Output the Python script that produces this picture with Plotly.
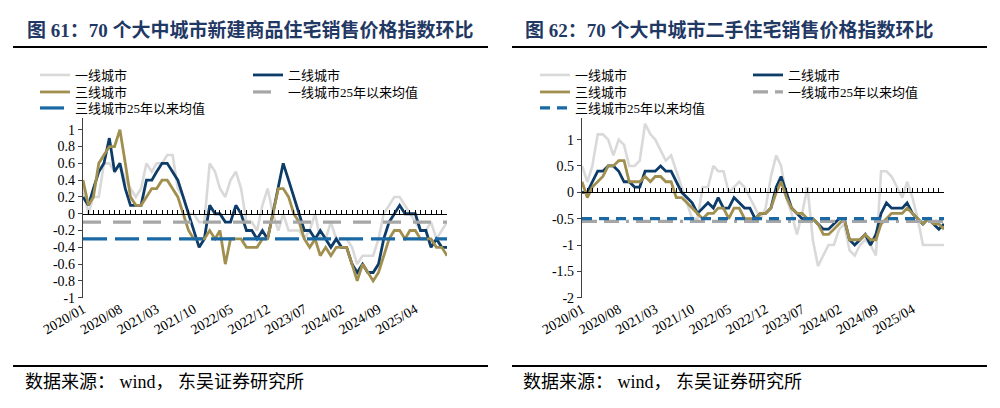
import pandas as pd
import plotly.graph_objects as go

# monthly data, 2020/01 - 2025/10
months = pd.date_range("2020-01-01", "2025-10-01", freq="MS")

x_tick_dates = ["2020-01-01", "2020-08-01", "2021-03-01", "2021-10-01", "2022-05-01",
                "2022-12-01", "2023-07-01", "2024-02-01", "2024-09-01", "2025-04-01"]
x_tick_labels = ["2020/01", "2020/08", "2021/03", "2021/10", "2022/05",
                 "2022/12", "2023/07", "2024/02", "2024/09", "2025/04"]

series_names = ["一线城市", "二线城市", "三线城市", "一线城市25年以来均值", "三线城市25年以来均值"]

# fig 61: new homes, MoM %
new_t1 = [0.3, 0.0, 0.2, 0.2, 0.6, 0.6, 0.5, 0.6, 0.4, 0.3,
          0.2, 0.3, 0.6, 0.5, 0.6, 0.6, 0.7, 0.7, 0.3, 0.2,
          0.0, 0.0, -0.1, -0.1, 0.6, 0.5, 0.3, 0.2, 0.4, 0.5,
          0.3, -0.1, -0.1, -0.2, 0.1, 0.3, 0.0, -0.2, 0.0, -0.2,
          -0.2, -0.2, -0.3, -0.2, 0.0, -0.3, -0.3, -0.1, -0.3, -0.3,
          -0.3, -0.4, -0.6, -0.5, -0.5, -0.5, -0.3, 0.0, 0.1, 0.2,
          0.2, 0.1, 0.0, -0.1, -0.2, -0.2, -0.1, -0.3, -0.2, -0.1]
new_t2 = [0.2, 0.1, 0.3, 0.5, 0.6, 0.9, 0.5, 0.6, 0.3, 0.1,
          0.1, 0.1, 0.4, 0.4, 0.5, 0.6, 0.6, 0.5, 0.4, 0.2,
          0.0, -0.2, -0.4, -0.3, 0.1, 0.0, 0.0, -0.1, -0.1, 0.1,
          0.0, -0.2, -0.2, -0.3, -0.2, -0.3, 0.0, 0.3, 0.6, 0.4,
          0.2, 0.0, -0.2, -0.2, -0.3, -0.2, -0.3, -0.4, -0.3, -0.4,
          -0.4, -0.6, -0.7, -0.6, -0.7, -0.7, -0.6, -0.3, -0.1, 0.0,
          0.1, 0.0, 0.0, 0.0, -0.2, -0.2, -0.4, -0.3, -0.4, -0.4]
new_t3 = [0.4, 0.1, 0.2, 0.6, 0.7, 0.8, 0.8, 1.0, 0.6, 0.2,
          0.1, 0.1, 0.2, 0.3, 0.3, 0.4, 0.4, 0.3, 0.2, 0.0,
          -0.2, -0.3, -0.3, -0.3, -0.2, -0.3, -0.2, -0.6, -0.3, -0.3,
          -0.3, -0.4, -0.4, -0.4, -0.3, -0.3, 0.0, 0.3, 0.3, 0.2,
          0.0, -0.1, -0.3, -0.4, -0.3, -0.5, -0.4, -0.5, -0.4, -0.4,
          -0.4, -0.6, -0.8, -0.6, -0.7, -0.8, -0.7, -0.5, -0.3, -0.2,
          -0.2, -0.3, -0.2, -0.2, -0.3, -0.3, -0.3, -0.4, -0.4, -0.5]
new_avg_t1 = -0.1
new_avg_t3 = -0.3

# fig 62: second-hand homes, MoM %
old_t1 = [0.5, 0.2, 0.5, 1.1, 1.1, 1.0, 0.7, 1.0, 0.9, 0.5,
          0.5, 0.6, 1.3, 1.1, 1.0, 0.8, 0.6, 0.7, 0.4, 0.1,
          -0.2, -0.5, -0.5, 0.1, 0.1, 0.5, 0.4, 0.4, 0.0, 0.1,
          0.2, 0.1, -0.1, -0.3, -0.5, -0.3, 0.3, 0.7, 0.5, -0.1,
          -0.4, -0.8, -0.4, 0.1, -0.9, -1.4, -1.2, -1.0, -1.0, -0.7,
          -0.6, -1.1, -1.2, -1.0, -0.9, -1.0, -1.2, 0.4, 0.4, 0.3,
          0.1, -0.1, 0.2, -0.1, -0.5, -1.0, -1.0, -1.0, -1.0, -1.0]
old_t2 = [0.0, 0.0, 0.2, 0.4, 0.4, 0.5, 0.5, 0.4, 0.2, 0.2,
          0.1, 0.1, 0.4, 0.4, 0.4, 0.5, 0.4, 0.4, 0.2, 0.0,
          -0.1, -0.2, -0.4, -0.3, -0.2, -0.3, -0.1, -0.3, -0.3, -0.1,
          -0.2, -0.3, -0.3, -0.5, -0.4, -0.4, -0.3, 0.1, 0.3, 0.0,
          -0.3, -0.4, -0.5, -0.5, -0.5, -0.6, -0.7, -0.7, -0.6, -0.5,
          -0.5, -0.9, -1.0, -0.9, -0.8, -1.0, -0.8, -0.4, -0.2, -0.3,
          -0.3, -0.3, -0.2, -0.4, -0.5, -0.6, -0.5, -0.6, -0.7, -0.6]
old_t3 = [0.2, -0.1, 0.1, 0.2, 0.3, 0.5, 0.5, 0.6, 0.6, 0.2,
          0.2, 0.2, 0.3, 0.2, 0.3, 0.3, 0.2, 0.2, -0.1, -0.1,
          -0.2, -0.3, -0.4, -0.5, -0.4, -0.4, -0.3, -0.3, -0.5, -0.3,
          -0.3, -0.5, -0.5, -0.5, -0.4, -0.4, -0.3, 0.0, 0.2, -0.1,
          -0.3, -0.4, -0.4, -0.5, -0.5, -0.6, -0.8, -0.8, -0.7, -0.6,
          -0.5, -0.9, -0.9, -0.9, -0.8, -0.9, -0.9, -0.6, -0.5, -0.4,
          -0.4, -0.4, -0.3, -0.4, -0.5, -0.6, -0.5, -0.6, -0.6, -0.7]
old_avg_t1 = -0.55
old_avg_t3 = -0.5

left_yticks = [1, 0.8, 0.6, 0.4, 0.2, 0, -0.2, -0.4, -0.6, -0.8, -1]
left_ylabels = ["1", "0.8", "0.6", "0.4", "0.2", "0", "-0.2", "-0.4", "-0.6", "-0.8", "-1"]
right_yticks = [1, 0.5, 0, -0.5, -1, -1.5, -2]
right_ylabels = ["1", "0.5", "0", "-0.5", "-1", "-1.5", "-2"]

c_t1 = "#d9d9d9"
c_t2 = "#0d3c69"
c_t3 = "#a18f4f"
c_avg1 = "#a6a6a6"
c_avg3 = "#1a69a4"
title_color = "#1f3864"

serif = "Liberation Serif, Noto Sans CJK SC"

W, H = 1000, 408
OFF = 8  # page body margin of the html output


def px_x(p):
    return (p - OFF) / W


def px_y(p):
    return 1 - (p - OFF) / H


y_dom = [px_y(297.7), px_y(118)]
left_range = [-1, 1.14]
right_range = [-2, 1.41]


def zero_pos(r):
    return y_dom[0] + (0 - r[0]) / (r[1] - r[0]) * (y_dom[1] - y_dom[0])


fig = go.Figure()

panels = [
    dict(x="x", y="y", xo="x3", t1=new_t1, t2=new_t2, t3=new_t3, a1=new_avg_t1, a3=new_avg_t3,
         legs=["legend", "legend2", "legend3"], d1="18px,12px", d3="24px,8px"),
    dict(x="x2", y="y2", xo="x4", t1=old_t1, t2=old_t2, t3=old_t3, a1=old_avg_t1, a3=old_avg_t3,
         legs=["legend4", "legend5", "legend6"], d1="15px,7px,15px,7px,3px,7px", d3="10px,7px"),
]

for p in panels:
    fig.add_trace(go.Scatter(x=months, y=p["t1"], name=series_names[0], mode="lines",
                             line=dict(color=c_t1, width=2.6), xaxis=p["x"], yaxis=p["y"],
                             legend=p["legs"][0]))
    fig.add_trace(go.Scatter(x=months, y=p["t2"], name=series_names[1], mode="lines",
                             line=dict(color=c_t2, width=2.8), xaxis=p["x"], yaxis=p["y"],
                             legend=p["legs"][0]))
    fig.add_trace(go.Scatter(x=months, y=p["t3"], name=series_names[2], mode="lines",
                             line=dict(color=c_t3, width=2.8), xaxis=p["x"], yaxis=p["y"],
                             legend=p["legs"][1]))
    # average lines sit on the overlay axis that carries the zero line
    fig.add_trace(go.Scatter(x=[months[0], months[-1]], y=[p["a1"], p["a1"]], name=series_names[3],
                             mode="lines", line=dict(color=c_avg1, width=3.2, dash=p["d1"]),
                             xaxis=p["xo"], yaxis=p["y"], legend=p["legs"][1]))
    fig.add_trace(go.Scatter(x=[months[0], months[-1]], y=[p["a3"], p["a3"]], name=series_names[4],
                             mode="lines", line=dict(color=c_avg3, width=3.2, dash=p["d3"]),
                             xaxis=p["xo"], yaxis=p["y"], legend=p["legs"][2]))

xr = [months[0], months[-1]]
bottom_x = dict(range=xr, showline=False, ticks="", showgrid=False, zeroline=False, automargin=False,
                tickvals=x_tick_dates, ticktext=x_tick_labels, tickangle=-30,
                tickfont=dict(family=serif, size=14, color="#000000"))
zero_x = dict(range=xr, showline=True, linecolor="#000000", linewidth=1, ticks="inside",
              ticklen=4, tickcolor="#000000", tickwidth=1, dtick="M1", tick0="2020-01-01",
              showticklabels=False, showgrid=False, zeroline=False, anchor="free", automargin=False)
y_common = dict(domain=y_dom, showline=True, linecolor="#404040", linewidth=1.3, ticks="outside",
                ticklen=4, tickcolor="#404040", showgrid=False, zeroline=False, automargin=False,
                tickfont=dict(family=serif, size=14, color="#000000"))

left_dom = [px_x(83), px_x(447)]
right_dom = [px_x(582), px_x(944)]

fig.update_layout(
    xaxis=dict(domain=left_dom, anchor="y", **bottom_x),
    xaxis2=dict(domain=right_dom, anchor="y2", **bottom_x),
    xaxis3=dict(domain=left_dom, overlaying="x", position=zero_pos(left_range), **zero_x),
    xaxis4=dict(domain=right_dom, overlaying="x2", position=zero_pos(right_range), **zero_x),
    yaxis=dict(range=left_range, anchor="x", tickvals=left_yticks, ticktext=left_ylabels, **y_common),
    yaxis2=dict(range=right_range, anchor="x2", tickvals=right_yticks, ticktext=right_ylabels, **y_common),
)

# legends: one horizontal legend per row
leg_rows = [75, 92, 108]
for k, lx in enumerate([35, 535]):
    for r, ly in enumerate(leg_rows):
        key = "legend" if (k == 0 and r == 0) else "legend%d" % (k * 3 + r + 1)
        fig.update_layout({key: dict(orientation="h", x=px_x(lx), xanchor="left", y=px_y(ly),
                                     yanchor="middle", entrywidth=168, entrywidthmode="pixels",
                                     itemwidth=30, bgcolor="rgba(0,0,0,0)", traceorder="normal",
                                     font=dict(family=serif, size=13, color="#000000"))})

titles = ["图 61：70 个大中城市新建商品住宅销售价格指数环比", "图 62：70 个大中城市二手住宅销售价格指数环比"]
for k, tx in enumerate([25, 523]):
    fig.add_annotation(text="<b>" + titles[k] + "</b>", x=px_x(tx), y=px_y(30), xref="paper", yref="paper",
                       xanchor="left", yanchor="middle", showarrow=False,
                       font=dict(family=serif, size=19, color=title_color))
    fig.add_annotation(text="数据来源： wind， 东吴证券研究所", x=px_x(tx - 2), y=px_y(382), xref="paper",
                       yref="paper", xanchor="left", yanchor="middle", showarrow=False,
                       font=dict(family=serif, size=18, color="#000000"))
    x0 = px_x(13 if k == 0 else 512)
    x1 = px_x(488 if k == 0 else 987)
    for yy in [47, 366]:
        fig.add_shape(type="line", xref="paper", yref="paper", x0=x0, x1=x1,
                      y0=px_y(yy), y1=px_y(yy), line=dict(color="#000000", width=2))

fig.update_layout(width=W, height=H, margin=dict(l=0, r=0, t=0, b=0),
                  paper_bgcolor="white", plot_bgcolor="white")

fig.write_html("out.html")
